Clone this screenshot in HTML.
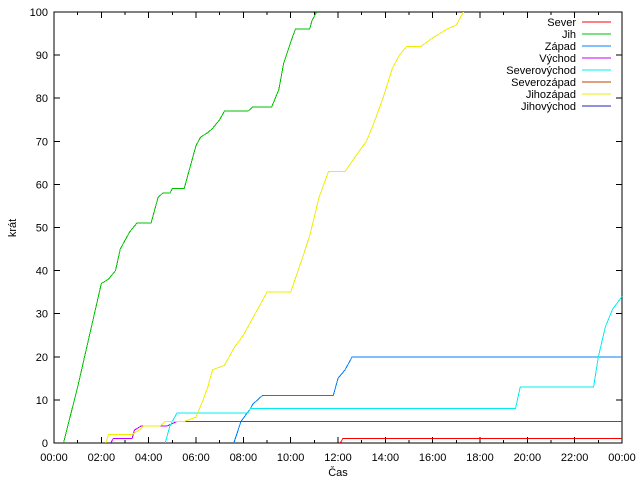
<!DOCTYPE html>
<html><head><meta charset="utf-8"><style>
body{margin:0;background:#fff}
svg text{font-family:"Liberation Sans","DejaVu Sans",sans-serif;font-size:11px;fill:#000}
svg line,svg rect,svg polyline{shape-rendering:crispEdges}
</style></head><body>
<svg id="c" width="640" height="480" xmlns="http://www.w3.org/2000/svg"></svg>
<script>
const seriesNames=["Sever","Jih","Západ","Východ","Severovýchod","Severozápad","Jihozápad","Jihovýchod"];
const seriesColors=["#ff0000","#00c000","#0080ff","#c000ff","#00eeee","#c04000","#eeee00","#2020c0"];
const sever=[[12.1,0],[12.2,1],[24,1]];
const jih=[[0.4,0],[1.0,13],[1.5,25],[2.0,37],[2.3,38],[2.6,40],[2.8,45],[3.2,49],[3.5,51],[4.1,51],[4.4,57],[4.6,58],[4.9,58],[5.0,59],[5.5,59],[5.8,65],[6.0,69],[6.2,71],[6.5,72],[6.7,73],[7.0,75],[7.2,77],[8.2,77],[8.4,78],[9.2,78],[9.5,82],[9.7,88],[10.0,93],[10.2,96],[10.8,96],[10.9,98],[11.1,100]];
const zapad=[[7.6,0],[7.9,5],[8.3,8],[8.4,9],[8.8,11],[11.8,11],[12.0,15],[12.3,17],[12.6,20],[24,20]];
const vychod=[[2.4,0],[2.5,1],[3.3,1],[3.4,3],[3.7,4],[4.8,4],[5.2,5],[24,5]];
const severovychod=[[4.7,0],[4.9,4],[5.2,7],[8.2,7],[8.3,8],[19.5,8],[19.7,13],[22.8,13],[23.0,20],[23.3,27],[23.6,31],[24,34]];
const severozapad=[];
const jihozapad=[[2.2,0],[2.3,2],[3.3,2],[3.6,3],[3.8,4],[4.5,4],[4.7,5],[5.5,5],[6.0,6],[6.3,10],[6.5,13],[6.7,17],[7.2,18],[7.6,22],[8.0,25],[8.5,30],[9.0,35],[10.0,35],[10.5,43],[10.8,48],[11.2,57],[11.6,63],[12.3,63],[12.8,67],[13.2,70],[13.5,74],[13.9,80],[14.3,87],[14.6,90],[14.9,92],[15.5,92],[16.0,94],[16.6,96],[17.0,97],[17.3,100]];
const jihovychod=[];
const allSeries=[sever,jih,zapad,vychod,severovychod,severozapad,jihozapad,jihovychod];
const yTicks=[0,10,20,30,40,50,60,70,80,90,100];
const xTickLabels=["00:00","02:00","04:00","06:00","08:00","10:00","12:00","14:00","16:00","18:00","20:00","22:00","00:00"];

const X0=54,X1=622,Y0=443,Y1=12;
const sx=h=>X0+h/24*(X1-X0);
const sy=v=>Y0-v/100*(Y0-Y1);
const svg=document.getElementById('c');
const NS="http://www.w3.org/2000/svg";
function mk(t,a,p){const e=document.createElementNS(NS,t);for(const k in a)e.setAttribute(k,a[k]);(p||svg).appendChild(e);return e;}

yTicks.forEach(v=>{
 const l=mk('line',{x1:X0,x2:X0+6,y1:sy(v),y2:sy(v),stroke:'#000'});
 
 
 mk('line',{x1:X1,x2:X1-6,y1:sy(v),y2:sy(v),stroke:'#000'});
 const t=mk('text',{x:X0-6,y:sy(v)+4,'text-anchor':'end'});t.textContent=v;
 
 
});
for(let h=0;h<=24;h++){
 const len=h%2?3:6;
 mk('line',{x1:sx(h),x2:sx(h),y1:Y0,y2:Y0-len,stroke:'#000'});
 mk('line',{x1:sx(h),x2:sx(h),y1:Y1,y2:Y1+len,stroke:'#000'});
}
xTickLabels.forEach((s,i)=>{
 const t=mk('text',{x:sx(i*2),y:Y0+18,'text-anchor':'middle'});t.textContent=s;
 
 
});
const f=mk('rect',{x:X0,y:Y1,width:X1-X0,height:Y0-Y1,fill:'none',stroke:'#000'});


const xt=mk('text',{x:338,y:476,'text-anchor':'middle'});xt.textContent='Čas';


const yt=mk('text',{x:16,y:228,'text-anchor':'middle',transform:'rotate(-90 16 228)'});yt.textContent='krát';


allSeries.forEach((s,i)=>{
 if(!s.length)return;
 const p=mk('polyline',{points:s.map(d=>sx(d[0])+','+sy(d[1])).join(' '),fill:'none',stroke:seriesColors[i],'stroke-width':1});
 
 
});
seriesNames.forEach((n,i)=>{
 const y=22+i*12;
 const t=mk('text',{x:576,y:y+4,'text-anchor':'end'});t.textContent=n;
 
 
 const l=mk('line',{x1:582,x2:611,y1:y,y2:y,stroke:seriesColors[i]});
 
 
});
</script>
</body></html>
